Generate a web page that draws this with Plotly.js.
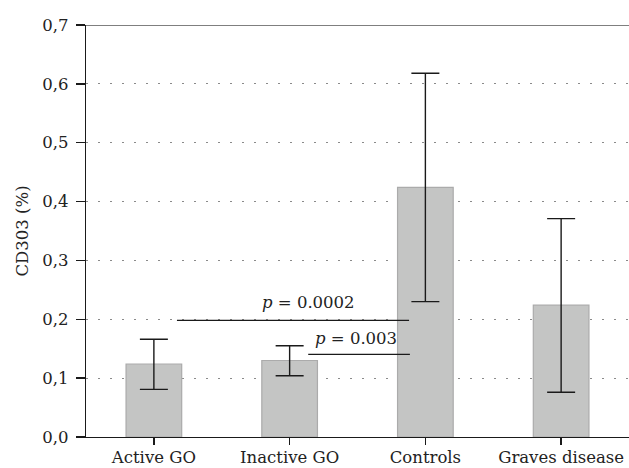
<!DOCTYPE html>
<html>
<head>
<meta charset="utf-8">
<script src="https://cdn.plot.ly/plotly-3.0.1.min.js"></script>
<style>html,body{margin:0;padding:0;background:#fff;}#chart{width:629px;height:468px;}</style>
</head>
<body>
<div id="chart"></div>
<script>
const categories = ["Active GO", "Inactive GO", "Controls", "Graves disease"];
const means = [0.124, 0.130, 0.424, 0.224];
const upper = [0.166, 0.155, 0.618, 0.371];
const lower = [0.081, 0.104, 0.230, 0.076];
const yTickVals = [0, 0.1, 0.2, 0.3, 0.4, 0.5, 0.6, 0.7];
const pLabels = ["p = 0.0002", "p = 0.003"];

const font = {family: "DejaVu Serif", size: 16.5, color: "#222"};

const trace = {
  type: "bar",
  x: categories,
  y: means,
  width: 0.41,
  marker: {color: "#c4c5c4", line: {color: "#ababab", width: 1.2}},
  error_y: {
    type: "data",
    symmetric: false,
    array: upper.map((u, i) => u - means[i]),
    arrayminus: means.map((m, i) => m - lower[i]),
    color: "#1a1a1a",
    thickness: 1.4,
    width: 14
  },
  hoverinfo: "skip"
};

function italicP(s) { return s.replace(/^p/, "<i>p</i>"); }

const layout = {
  width: 629,
  height: 468,
  margin: {l: 86, r: 0, t: 25, b: 31},
  paper_bgcolor: "#fff",
  plot_bgcolor: "#fff",
  separators: ", ",
  font: font,
  showlegend: false,
  xaxis: {
    type: "category",
    range: [-0.5, 3.5],
    showline: true,
    linecolor: "#1a1a1a",
    linewidth: 1.3,
    ticks: "outside",
    ticklen: 7,
    tickcolor: "#1a1a1a",
    tickwidth: 1.3,
    ticklabelstandoff: -2,
    showgrid: false,
    zeroline: false,
    tickfont: font,
    automargin: false
  },
  yaxis: {
    range: [0, 0.7],
    tickvals: yTickVals,
    tickformat: ".1f",
    showline: true,
    linecolor: "#1a1a1a",
    linewidth: 1.3,
    ticks: "outside",
    ticklen: 9,
    tickcolor: "#1a1a1a",
    tickwidth: 1.3,
    ticklabelstandoff: 4,
    showgrid: true,
    gridcolor: "#8a8a8a",
    gridwidth: 1.2,
    griddash: "2px,10px",
    zeroline: false,
    tickfont: font,
    title: {text: "CD303 (%)", font: font, standoff: 9},
    automargin: false
  },
  shapes: [
    {type: "line", xref: "paper", yref: "y", x0: 0, x1: 1, y0: 0.7, y1: 0.7,
     line: {color: "#555", width: 1.5}, layer: "below"},
    {type: "line", xref: "x", yref: "y", x0: 0.17, x1: 1.88, y0: 0.198, y1: 0.198,
     line: {color: "#1a1a1a", width: 1.3}},
    {type: "line", xref: "x", yref: "y", x0: 1.137, x1: 1.886, y0: 0.1405, y1: 0.1405,
     line: {color: "#1a1a1a", width: 1.3}}
  ],
  annotations: [
    {xref: "x", yref: "y", x: 1.14, y: 0.228, text: italicP(pLabels[0]), showarrow: false,
     font: font, xanchor: "center", yanchor: "middle"},
    {xref: "x", yref: "y", x: 1.49, y: 0.168, text: italicP(pLabels[1]), showarrow: false,
     font: font, xanchor: "center", yanchor: "middle"}
  ]
};

Plotly.newPlot("chart", [trace], layout, {displayModeBar: false, staticPlot: true});
</script>
</body>
</html>
